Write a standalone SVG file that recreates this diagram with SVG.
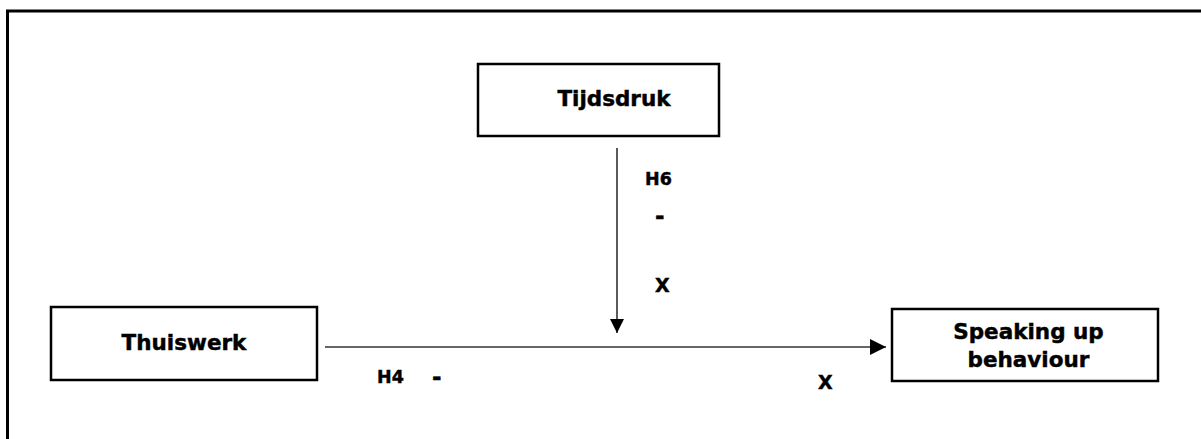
<svg xmlns="http://www.w3.org/2000/svg" width="1201" height="439" viewBox="0 0 1201 439">
  <style>
    .box { fill: #ffffff; stroke: #000000; stroke-width: 2.5; }
    .frame { fill: none; stroke: #000000; stroke-width: 3; }
    .label { font-family: "DejaVu Sans", Verdana, sans-serif; font-weight: bold; fill: #000000; stroke: #000000; stroke-width: 0.45; }
    .node { font-size: 21.5px; text-anchor: middle; }
    .hyp { font-size: 17.5px; }
    .dash { font-size: 23px; }
    .cross { font-size: 19px; }
    .link { fill: none; stroke: #333333; stroke-width: 1.6; }
  </style>
  <defs>
    <marker id="head" viewBox="0 0 10 10" refX="10" refY="5" markerUnits="userSpaceOnUse" markerWidth="17" markerHeight="16" orient="auto">
      <path d="M0,0 L10,5 L0,10 Z" fill="#000000"/>
    </marker>
    <marker id="headV" viewBox="0 0 10 10" refX="10" refY="5" markerUnits="userSpaceOnUse" markerWidth="18" markerHeight="14" orient="auto">
      <path d="M0,0 L10,5 L0,10 Z" fill="#000000"/>
    </marker>
  </defs>

  <rect width="1201" height="439" fill="#ffffff"/>

  <!-- outer frame, running past the right and bottom edges -->
  <rect class="frame" x="7.5" y="11" width="1300" height="500"/>

  <g id="connectors">
    <line class="link" x1="617" y1="148" x2="617" y2="333" marker-end="url(#headV)"/>
    <line class="link" x1="325" y1="347" x2="886" y2="347" marker-end="url(#head)"/>
  </g>

  <g id="node-tijdsdruk">
    <rect class="box" x="478" y="64" width="241" height="72"/>
    <text class="label node" x="614" y="106">Tijdsdruk</text>
  </g>

  <g id="node-thuiswerk">
    <rect class="box" x="51" y="307" width="266" height="73"/>
    <text class="label node" x="184" y="350">Thuiswerk</text>
  </g>

  <g id="node-speaking-up">
    <rect class="box" x="892" y="309" width="266" height="72"/>
    <text class="label node" x="1028.5" y="339">Speaking up</text>
    <text class="label node" x="1028.5" y="367">behaviour</text>
  </g>

  <g id="labels">
    <text class="label hyp" x="645" y="185">H6</text>
    <text class="label dash" x="655" y="224">-</text>
    <text class="label cross" x="655" y="292">X</text>
    <text class="label hyp" x="377" y="383">H4</text>
    <text class="label dash" x="432" y="385">-</text>
    <text class="label cross" x="818" y="389">X</text>
  </g>
</svg>
